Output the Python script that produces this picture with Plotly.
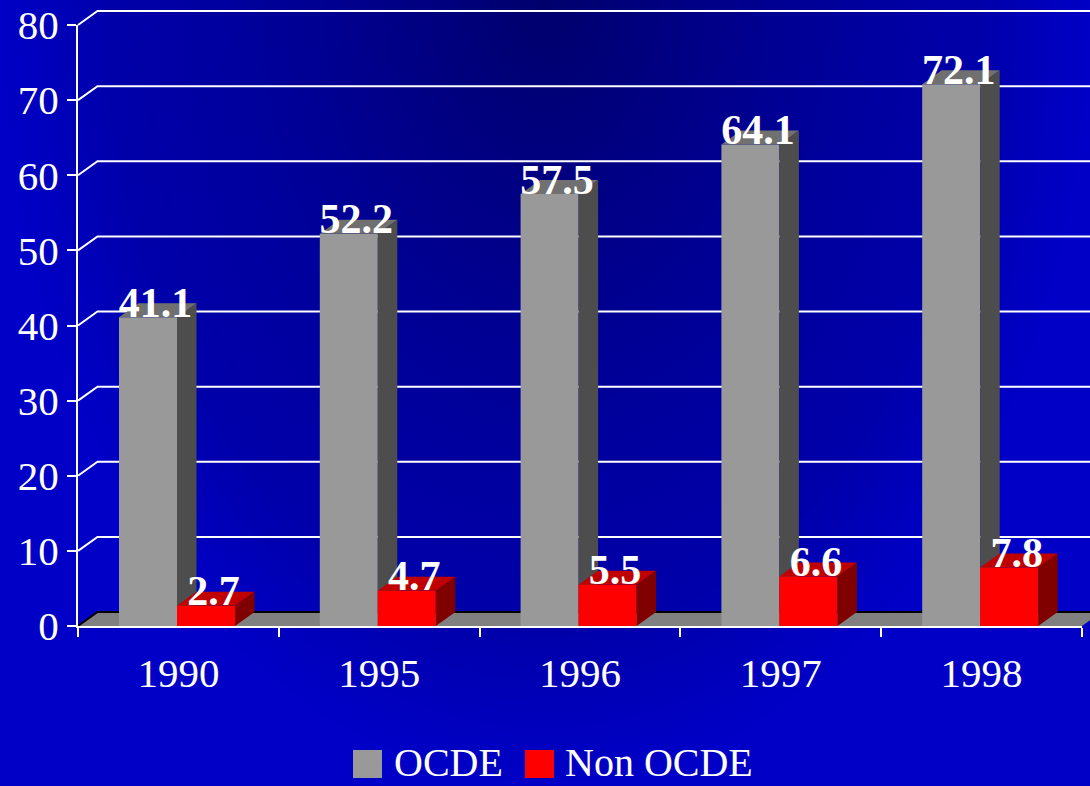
import plotly.graph_objects as go

# ---------------- data ----------------
categories = ["1990", "1995", "1996", "1997", "1998"]
ocde = [41.1, 52.2, 57.5, 64.1, 72.1]
non_ocde = [2.7, 4.7, 5.5, 6.6, 7.8]
y_ticks = [0, 10, 20, 30, 40, 50, 60, 70, 80]
series_names = ["OCDE", "Non OCDE"]

# ---------------- geometry / style ----------------
W, H = 1090, 786
AX_L, AX_R = 78, 1082          # front plane x extent (px)
Y0_PX, YTOP_PX = 626, 25       # front plane y of 0 and of top tick (px)
YMAX = 80
DEPTH_DX_PX, DEPTH_DY_PX = 19.5, 14

n = len(categories)
cat_w_px = (AX_R - AX_L) / n
ux = 1.0 / cat_w_px
uy = YMAX / (Y0_PX - YTOP_PX)
x_rng = [-0.5 - AX_L * ux, -0.5 + (W - AX_L) * ux]
y_rng = [-(H - Y0_PX) * uy, Y0_PX * uy]
dx = DEPTH_DX_PX * ux
dy = DEPTH_DY_PX * uy

BAR_W = 58 * ux
OFF_A = -59.4 * ux            # left edge of first series bar, from category centre
OFF_B = OFF_A + BAR_W

FONT = "Liberation Serif, Times New Roman, serif"
COL_A = dict(front="#999999", side="#4d4d4d", top="#707070")
COL_B = dict(front="#ff0000", side="#800000", top="#c00000")

fig = go.Figure()

# ---------------- background gradient ----------------
fig.add_trace(go.Scatter(
    x=[x_rng[0], x_rng[1], x_rng[1], x_rng[0], x_rng[0]],
    y=[y_rng[0], y_rng[0], 2 * y_rng[1] - y_rng[0], 2 * y_rng[1] - y_rng[0], y_rng[0]],
    mode="lines", line=dict(width=0), fill="toself",
    fillgradient=dict(type="radial", colorscale=[
        [0.0, "#00006c"], [0.3, "#000088"], [0.55, "#00009c"],
        [0.8, "#0000aa"], [0.95, "#0000c0"], [1.0, "#0000c6"]]),
    hoverinfo="skip", showlegend=False))

# ---------------- back wall gridlines ----------------
gx, gy = [], []
for v in y_ticks:
    if v == 0:
        continue
    gx += [-0.5, -0.5 + dx, x_rng[1] + 1, None]
    gy += [v, v + dy, v + dy, None]
fig.add_trace(go.Scatter(x=gx, y=gy, mode="lines",
                         line=dict(color="white", width=2),
                         hoverinfo="skip", showlegend=False))

# ---------------- floor ----------------
fig.add_trace(go.Scatter(
    x=[-0.5, n - 0.5, n - 0.5 + dx, -0.5 + dx, -0.5],
    y=[0, 0, dy, dy, 0], mode="lines", line=dict(width=0),
    fill="toself", fillcolor="#808080", hoverinfo="skip", showlegend=False))
fig.add_trace(go.Scatter(
    x=[-0.5, -0.5 + dx, n - 0.5 + dx], y=[0, dy, dy], mode="lines",
    line=dict(color="black", width=2), hoverinfo="skip", showlegend=False))


# ---------------- 3D bars ----------------
def add_boxes(values, off, cols):
    fx, fy, sx, sy, tx, ty = [], [], [], [], [], []
    for i, v in enumerate(values):
        x0 = i + off
        x1 = x0 + BAR_W
        fx += [x0, x1, x1, x0, x0, None]
        fy += [0, 0, v, v, 0, None]
        sx += [x1, x1 + dx, x1 + dx, x1, x1, None]
        sy += [0, dy, v + dy, v, 0, None]
        tx += [x0, x1, x1 + dx, x0 + dx, x0, None]
        ty += [v, v, v + dy, v + dy, v, None]
    for xs, ys, c in ((fx, fy, cols["front"]), (sx, sy, cols["side"]), (tx, ty, cols["top"])):
        fig.add_trace(go.Scatter(x=xs, y=ys, mode="lines", line=dict(width=0),
                                 fill="toself", fillcolor=c, connectgaps=False,
                                 hoverinfo="skip", showlegend=False))


add_boxes(ocde, OFF_A, COL_A)
add_boxes(non_ocde, OFF_B, COL_B)

# ---------------- value labels ----------------
lab_dx = BAR_W / 2 + 7.5 * ux
lab_dy = 11 * uy
fig.add_trace(go.Scatter(
    x=[i + OFF_A + lab_dx for i in range(n)] + [i + OFF_B + lab_dx for i in range(n)],
    y=[v + lab_dy for v in ocde] + [v + lab_dy for v in non_ocde],
    text=[f"{v:.1f}" for v in ocde] + [f"{v:.1f}" for v in non_ocde],
    mode="text", textposition="middle center",
    textfont=dict(family=FONT, size=42, color="white", weight="bold"),
    hoverinfo="skip", showlegend=False, cliponaxis=False))

# dummy trace so the front axes subplot renders
fig.add_trace(go.Scatter(x=[None], y=[None], xaxis="x2", yaxis="y2",
                         hoverinfo="skip", showlegend=False))

# ---------------- legend (drawn) ----------------
leg_items = [(series_names[0], COL_A["front"], 353, 392),
             (series_names[1], COL_B["front"], 525, 563)]
shapes, annos = [], []
for name, col, sx0, tx0 in leg_items:
    shapes.append(dict(type="rect", xref="paper", yref="paper",
                       x0=sx0 / W, x1=(sx0 + 29) / W,
                       y0=1 - 778 / H, y1=1 - 750 / H,
                       fillcolor=col, line=dict(width=0)))
    annos.append(dict(text=name, xref="paper", yref="paper",
                      x=tx0 / W, y=1 - 762 / H, xanchor="left", yanchor="middle",
                      showarrow=False, font=dict(family=FONT, size=40, color="white")))

fig.update_layout(
    width=W, height=H,
    margin=dict(l=0, r=0, t=0, b=0, pad=0, autoexpand=False),
    paper_bgcolor="#0000b0", plot_bgcolor="rgba(0,0,0,0)",
    showlegend=False,
    xaxis=dict(domain=[0, 1], range=x_rng, visible=False, fixedrange=True, automargin=False),
    yaxis=dict(domain=[0, 1], range=y_rng, visible=False, fixedrange=True, automargin=False),
    xaxis2=dict(domain=[AX_L / W, AX_R / W], range=[-0.5, n - 0.5], anchor="y2",
                tickmode="array", tickvals=list(range(n)), ticktext=categories,
                ticks="", showline=True, linecolor="white", linewidth=2,
                showgrid=False, zeroline=False, ticklabelstandoff=10,
                tickfont=dict(family=FONT, size=41, color="white"),
                minor=dict(tickmode="array", tickvals=[i - 0.5 for i in range(n + 1)],
                           ticks="outside", ticklen=9, tickwidth=2, tickcolor="white",
                           showgrid=False),
                fixedrange=True, automargin=False),
    yaxis2=dict(domain=[1 - Y0_PX / H, 1 - YTOP_PX / H], range=[0, YMAX], anchor="x2",
                tickmode="array", tickvals=y_ticks,
                ticks="outside", ticklen=9, tickwidth=2, tickcolor="white",
                showline=True, linecolor="white", linewidth=2,
                showgrid=False, zeroline=False, ticklabelstandoff=0,
                tickfont=dict(family=FONT, size=41, color="white"),
                fixedrange=True, automargin=False),
    shapes=shapes, annotations=annos,
)

fig.write_html("out.html", config={"displayModeBar": False},
               post_script="document.body.style.margin='0';document.body.style.overflow='hidden';")
